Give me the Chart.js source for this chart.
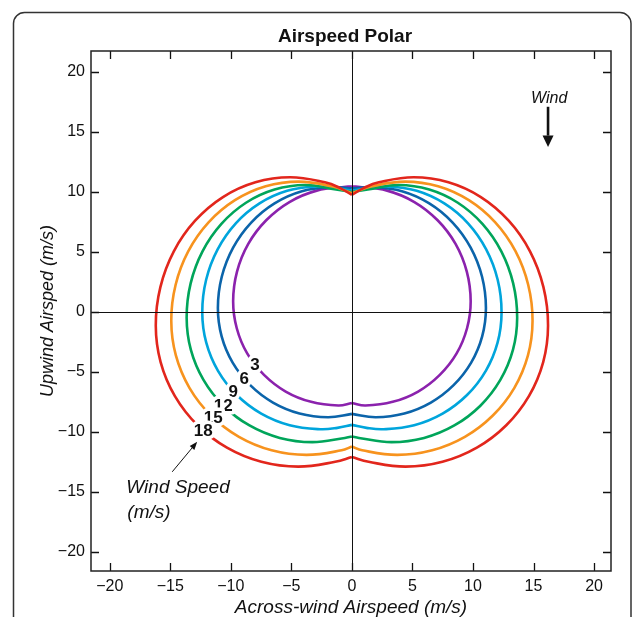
<!DOCTYPE html>
<html>
<head>
<meta charset="utf-8">
<script src="https://cdn.jsdelivr.net/npm/chart.js@4.4.0/dist/chart.umd.min.js"></script>
<style>
html, body { margin: 0; padding: 0; background: #fff; }
</style>
</head>
<body>
<canvas id="myChart" width="633" height="617"></canvas>
<script>
// wind speeds (m/s) of the curves, innermost first
var windSpeeds = [3, 6, 9, 12, 15, 18]

// right half of every curve, from the top (x = 0) round to the bottom (x = 0)
var ws3X = [0, 0.5, 2.91, 5.16, 7.08, 8.56, 9.49, 9.81, 9.51, 8.65, 7.26, 5.47, 3.37, 1.12, 0]
var ws3Y = [10.44, 10.44, 10.11, 9.16, 7.64, 5.67, 3.36, 0.89, -1.36, -3.46, -5.25, -6.64, -7.5, -7.8, -7.6]

var ws6X = [0, 1.7, 4.13, 6.39, 8.32, 9.81, 10.75, 11.07, 10.76, 9.85, 8.4, 6.52, 4.33, 1.97, 0]
var ws6Y = [10.3, 10.4, 10.06, 9.05, 7.45, 5.36, 2.93, 0.32, -2.04, -4.23, -6.11, -7.56, -8.47, -8.78, -8.5]

var ws9X = [0, 1.2, 2.9, 5.35, 7.63, 9.59, 11.09, 12.04, 12.36, 12.03, 11.06, 9.51, 7.49, 5.14, 2.62, 1.2, 0]
var ws9Y = [10.1, 10.3, 10.45, 10.09, 9.04, 7.38, 5.21, 2.68, -0.04, -2.56, -4.91, -6.93, -8.48, -9.45, -9.78, -9.67, -9.42]

var ws12X = [0, 1.31, 3.85, 6.39, 8.75, 10.78, 12.34, 13.32, 13.65, 13.3, 12.26, 10.61, 8.46, 5.96, 3.27, 0.58, 0]
var ws12Y = [10.0, 10.2, 10.58, 10.2, 9.1, 7.34, 5.05, 2.38, -0.48, -3.17, -5.67, -7.82, -9.47, -10.51, -10.86, -10.51, -10.39]

var ws15X = [0, 1.68, 4.4, 7.12, 9.66, 11.84, 13.51, 14.56, 14.92, 14.54, 13.42, 11.64, 9.33, 6.63, 3.74, 0.85, 0]
var ws15Y = [9.9, 10.47, 10.86, 10.47, 9.31, 7.46, 5.06, 2.26, -0.74, -3.63, -6.33, -8.64, -10.42, -11.54, -11.92, -11.54, -11.22]

var ws18X = [0, 1.0, 2.23, 5.1, 7.97, 10.65, 12.95, 14.71, 15.82, 16.2, 15.8, 14.62, 12.75, 10.32, 7.48, 4.43, 1.38, 0]
var ws18Y = [9.75, 10.34, 10.8, 11.22, 10.8, 9.57, 7.6, 5.05, 2.07, -1.13, -4.18, -7.02, -9.45, -11.32, -12.5, -12.9, -12.5, -12.1]

// where the wind speed numbers sit (data units)
var labelX = [-8.0, -8.9, -9.81, -10.63, -11.46, -12.28]
var labelY = [-4.42, -5.58, -6.67, -7.83, -8.83, -9.92]

var xTicks = [-20, -15, -10, -5, 0, 5, 10, 15, 20]
var yTicks = [-20, -15, -10, -5, 0, 5, 10, 15, 20]

var curveX = [ws3X, ws6X, ws9X, ws12X, ws15X, ws18X]
var curveY = [ws3Y, ws6Y, ws9Y, ws12Y, ws15Y, ws18Y]
var colors = ["#8b22ad", "#0b64aa", "#00a5dc", "#00a55a", "#f7931e", "#e2261c"]

var FONT = "'Liberation Sans', Arial, Helvetica, sans-serif"

function minus(v){
    return v < 0 ? "\u2212" + Math.abs(v) : "" + v
}

var datasets = []
for (var i = curveX.length - 1; i >= 0; i--) {
    var right = [], left = []
    for (var k = 0; k < curveX[i].length; k++) {
        right.push({x: curveX[i][k], y: curveY[i][k]})
        left.push({x: -curveX[i][k], y: curveY[i][k]})
    }
    ;[right, left].forEach(function(pts){
        datasets.push({
            data: pts,
            showLine: true,
            borderColor: colors[i],
            borderWidth: 2.6,
            pointRadius: 0,
            tension: 0.4,
            fill: false
        })
    })
}

var extras = {
    id: "extras",
    beforeDraw: function(chart){
        var ctx = chart.ctx
        ctx.save()
        // rounded outer panel
        ctx.strokeStyle = "#333"
        ctx.lineWidth = 1.5
        ctx.beginPath()
        var l = 13.5, t = 12.5, r = 631, b = 700, rad = 11
        ctx.moveTo(l, b)
        ctx.lineTo(l, t + rad)
        ctx.arcTo(l, t, l + rad, t, rad)
        ctx.lineTo(r - rad, t)
        ctx.arcTo(r, t, r, t + rad, rad)
        ctx.lineTo(r, b)
        ctx.stroke()
        ctx.restore()
    },
    afterDatasetsDraw: function(chart){
        var ctx = chart.ctx
        var xs = chart.scales.x, ys = chart.scales.y
        var a = chart.chartArea
        function px(x){ return xs.getPixelForValue(x) }
        function py(y){ return ys.getPixelForValue(y) }
        ctx.save()

        // zero lines
        ctx.strokeStyle = "#111"
        ctx.lineWidth = 1
        ctx.beginPath()
        ctx.moveTo(Math.round(px(0)) + 0.5, a.top)
        ctx.lineTo(Math.round(px(0)) + 0.5, a.bottom)
        ctx.moveTo(a.left, Math.round(py(0)) + 0.5)
        ctx.lineTo(a.right, Math.round(py(0)) + 0.5)
        ctx.stroke()

        // inward ticks on all four sides
        ctx.lineWidth = 1.3
        ctx.beginPath()
        xTicks.forEach(function(v){
            var x = Math.round(px(v)) + 0.5
            ctx.moveTo(x, a.top); ctx.lineTo(x, a.top + 8)
            ctx.moveTo(x, a.bottom); ctx.lineTo(x, a.bottom - 8)
        })
        yTicks.forEach(function(v){
            var y = Math.round(py(v)) + 0.5
            ctx.moveTo(a.left, y); ctx.lineTo(a.left + 8, y)
            ctx.moveTo(a.right, y); ctx.lineTo(a.right - 8, y)
        })
        ctx.stroke()

        // plot frame
        ctx.lineWidth = 1.5
        ctx.strokeStyle = "#222"
        ctx.strokeRect(a.left, a.top, a.right - a.left, a.bottom - a.top)

        // wind speed numbers with white halo so the curves break around them
        ctx.font = "bold 17px " + FONT
        ctx.textAlign = "center"
        ctx.textBaseline = "middle"
        ctx.lineJoin = "round"
        windSpeeds.forEach(function(w, i){
            var x = px(labelX[i]), y = py(labelY[i])
            ctx.strokeStyle = "#fff"
            ctx.lineWidth = 7
            ctx.strokeText(w, x, y)
            ctx.fillStyle = "#111"
            ctx.fillText(w, x, y)
        })

        // wind arrow
        ctx.strokeStyle = "#111"
        ctx.fillStyle = "#111"
        ctx.lineWidth = 2.6
        var wx = px(16.2)
        ctx.beginPath()
        ctx.moveTo(wx, py(17.1))
        ctx.lineTo(wx, py(14.7))
        ctx.stroke()
        ctx.beginPath()
        ctx.moveTo(wx - 5.5, py(14.7))
        ctx.lineTo(wx + 5.5, py(14.7))
        ctx.lineTo(wx, py(13.75))
        ctx.closePath()
        ctx.fill()
        ctx.font = "italic 16px " + FONT
        ctx.textAlign = "center"
        ctx.textBaseline = "alphabetic"
        ctx.fillText("Wind", px(16.3), py(17.4))

        // wind speed pointer
        var x1 = px(-14.84), y1 = py(-13.33), x2 = px(-12.78), y2 = py(-10.83)
        var ang = Math.atan2(y2 - y1, x2 - x1)
        ctx.lineWidth = 1
        ctx.beginPath()
        ctx.moveTo(x1, y1)
        ctx.lineTo(x2 - 6 * Math.cos(ang), y2 - 6 * Math.sin(ang))
        ctx.stroke()
        ctx.beginPath()
        ctx.moveTo(x2, y2)
        ctx.lineTo(x2 - 8 * Math.cos(ang) + 3 * Math.sin(ang), y2 - 8 * Math.sin(ang) - 3 * Math.cos(ang))
        ctx.lineTo(x2 - 8 * Math.cos(ang) - 3 * Math.sin(ang), y2 - 8 * Math.sin(ang) + 3 * Math.cos(ang))
        ctx.closePath()
        ctx.fill()
        ctx.font = "italic 19px " + FONT
        ctx.textAlign = "left"
        ctx.fillText("Wind Speed", px(-18.63), py(-15.08))
        ctx.fillText("(m/s)", px(-18.55), py(-17.17))

        // title and axis titles
        ctx.textAlign = "center"
        ctx.font = "bold 19px " + FONT
        ctx.fillText("Airspeed Polar", 345, 42)
        ctx.font = "italic 19px " + FONT
        ctx.fillText("Across-wind Airspeed (m/s)", (a.left + a.right) / 2, 613)
        ctx.translate(53, (a.top + a.bottom) / 2)
        ctx.rotate(-Math.PI / 2)
        ctx.font = "italic 18px " + FONT
        ctx.fillText("Upwind Airsped (m/s)", 0, 0)
        ctx.restore()
    }
}

var myChart = document.getElementById("myChart").getContext("2d")

var chart = new Chart(myChart, {
    type: "scatter",
    data: { datasets: datasets },
    options: {
        responsive: false,
        animation: false,
        devicePixelRatio: 1,
        layout: { padding: { left: 0, right: 22, top: 51, bottom: 0 } },
        plugins: {
            legend: { display: false },
            tooltip: { enabled: false },
            title: { display: false }
        },
        scales: {
            x: {
                type: "linear",
                min: -21.55,
                max: 21.4,
                afterBuildTicks: function(axis){ axis.ticks = xTicks.map(function(v){ return {value: v} }) },
                afterFit: function(axis){ axis.height = 46 },
                grid: { display: false, drawTicks: false },
                border: { display: false },
                ticks: {
                    padding: 6,
                    color: "#111",
                    font: { size: 16, family: FONT },
                    maxRotation: 0,
                    callback: function(v){ return minus(v) }
                }
            },
            y: {
                type: "linear",
                min: -21.6,
                max: 21.75,
                afterBuildTicks: function(axis){ axis.ticks = yTicks.map(function(v){ return {value: v} }) },
                afterFit: function(axis){ axis.width = 91 },
                grid: { display: false, drawTicks: false },
                border: { display: false },
                ticks: {
                    padding: 6,
                    color: "#111",
                    font: { size: 16, family: FONT },
                    callback: function(v){ return minus(v) }
                }
            }
        }
    },
    plugins: [extras]
})
</script>
</body>
</html>
